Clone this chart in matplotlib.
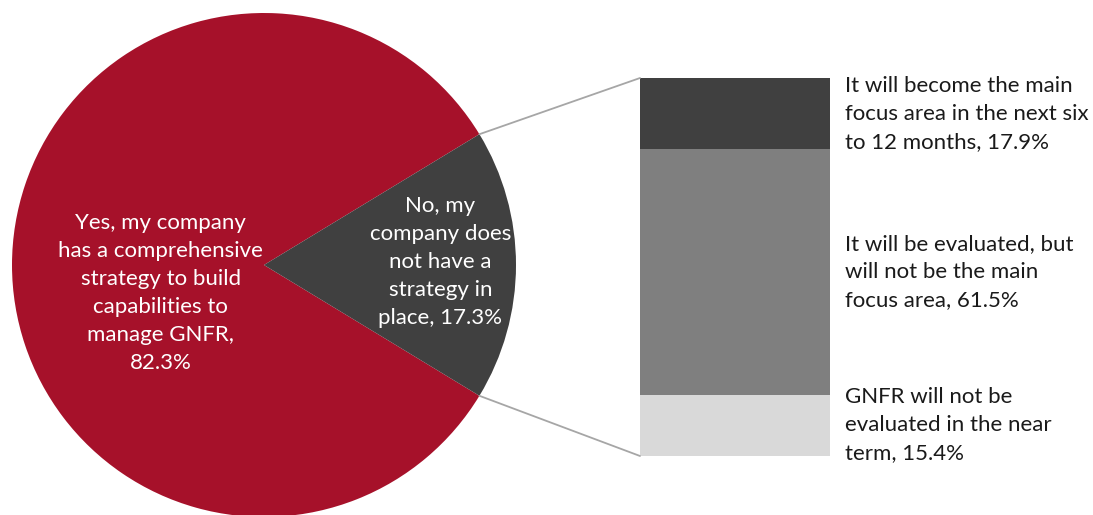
import matplotlib
matplotlib.use("Agg")
import matplotlib.pyplot as plt
from matplotlib.patches import ConnectionPatch
from matplotlib.transforms import blended_transform_factory
import numpy as np

plt.rcParams['font.family'] = ['Lato', 'DejaVu Sans']

# Data
pie_labels = ["Yes, my company\nhas a comprehensive\nstrategy to build\ncapabilities to\nmanage GNFR,\n82.3%",
              "No, my\ncompany does\nnot have a\nstrategy in\nplace, 17.3%"]
pie_values = [82.3, 17.3]
pie_colors = ["#A6112A", "#404040"]

bar_labels = ["GNFR will not be\nevaluated in the near\nterm, 15.4%",
              "It will be evaluated, but\nwill not be the main\nfocus area, 61.5%",
              "It will become the main\nfocus area in the next six\nto 12 months, 17.9%"]
bar_values = [15.4, 61.5, 17.9]
bar_colors = ["#D9D9D9", "#7F7F7F", "#404040"]

W, H = 1093, 515
fig = plt.figure(figsize=(W / 100, H / 100), dpi=100)

# Pie axes
r_px = 252
cx, cy = 264, 515 - 265
ax1 = fig.add_axes([(cx - r_px) / W, (cy - r_px) / H, 2 * r_px / W, 2 * r_px / H])
no_angle = pie_values[1] / sum(pie_values) * 360
start = no_angle / 2
wedges, _ = ax1.pie(pie_values, colors=pie_colors, startangle=start, counterclock=True,
                    radius=1, wedgeprops=dict(linewidth=0))
ax1.set_xlim(-1, 1)
ax1.set_ylim(-1, 1)
ax1.set_aspect('equal')
ax1.axis('off')

fs = 16
ls = 1.5
ax1.text(-0.41, -0.11, pie_labels[0], color='white', ha='center', va='center',
         fontsize=fs, linespacing=ls)
ax1.text(0.70, 0.01, pie_labels[1], color='white', ha='center', va='center',
         fontsize=fs, linespacing=ls)

# Bar axes
bx0, bx1 = 640, 830
by_top, by_bot = 78, 456
ax2 = fig.add_axes([bx0 / W, (H - by_bot) / H, (bx1 - bx0) / W, (by_bot - by_top) / H])
bottom = 0
centers = []
for v, c in zip(bar_values, bar_colors):
    ax2.bar(0, v, bottom=bottom, width=1.0, color=c, linewidth=0)
    centers.append(bottom + v / 2)
    bottom += v
total = sum(bar_values)
ax2.set_xlim(-0.5, 0.5)
ax2.set_ylim(0, total)
ax2.axis('off')

tr = blended_transform_factory(ax2.transAxes, ax2.transData)
for lab, yc in zip(bar_labels, centers):
    ax2.text((845 - bx0) / (bx1 - bx0), yc, lab, transform=tr, ha='left', va='center',
             fontsize=fs, linespacing=ls, color='#1a1a1a')

# Connector lines
theta = np.deg2rad(start)
for sgn, yb in [(1, total), (-1, 0)]:
    con = ConnectionPatch(xyA=(np.cos(theta), sgn * np.sin(theta)), coordsA=ax1.transData,
                          xyB=(-0.5, yb), coordsB=ax2.transData,
                          color='#A6A6A6', linewidth=1.3)
    fig.add_artist(con)

fig.savefig("out.png", dpi=100)
